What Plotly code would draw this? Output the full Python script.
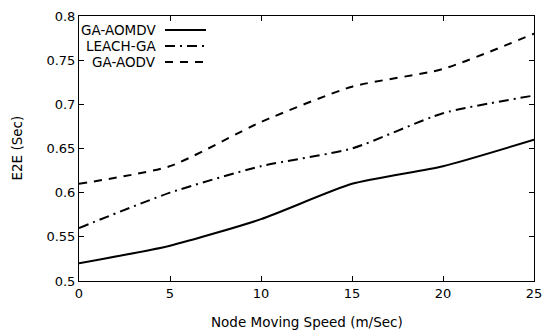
import plotly.graph_objects as go

speed = [0, 5, 10, 15, 20, 25]
ga_aomdv = [0.52, 0.54, 0.57, 0.61, 0.63, 0.66]
leach_ga = [0.56, 0.60, 0.63, 0.65, 0.69, 0.71]
ga_aodv = [0.61, 0.63, 0.68, 0.72, 0.74, 0.78]
names = ["GA-AOMDV", "LEACH-GA", "GA-AODV"]
dashes = ["solid", "10px,5px,2px,5px", "8px,7px"]
series = [ga_aomdv, leach_ga, ga_aodv]

fig = go.Figure()
for n, d, s in zip(names, dashes, series):
    fig.add_trace(go.Scatter(x=speed, y=s, mode="lines", name=n,
                             line=dict(color="black", width=2, dash=d,
                                       shape="spline", smoothing=0.6),
                             showlegend=False))

# target page geometry (the page body has an 8px default margin)
OFF = 8
L, R, T, B = 79, 534, 16, 281
W, H = 550, 335
pw, ph = R - L, B - T
FONT = "DejaVu Sans"

# manual legend (text left of key line, as in the reference)
key_y = [30, 46, 62]
for n, d, yy in zip(names, dashes, key_y):
    yp = (B - yy) / ph
    fig.add_annotation(x=(158 - L) / pw, y=yp, xref="paper", yref="paper",
                       text=n, showarrow=False, xanchor="right", yanchor="middle",
                       font=dict(size=13.5, color="black", family=FONT))
    fig.add_shape(type="line", xref="paper", yref="paper",
                  x0=(165 - L) / pw, x1=(206 - L) / pw, y0=yp, y1=yp,
                  line=dict(color="black", width=2, dash=d))

# axis titles
fig.add_annotation(x=0.5, y=(B - 322) / ph, xref="paper", yref="paper",
                   text="Node Moving Speed (m/Sec)", showarrow=False,
                   xanchor="center", yanchor="middle",
                   font=dict(size=13.5, color="black", family=FONT))
fig.add_annotation(x=(16 - L) / pw, y=0.5, xref="paper", yref="paper",
                   text="E2E (Sec)", showarrow=False, textangle=-90,
                   xanchor="center", yanchor="middle",
                   font=dict(size=13.5, color="black", family=FONT))

axis_common = dict(showline=True, linecolor="black", linewidth=1, mirror="ticks",
                   ticks="inside", ticklen=5, tickcolor="black", showgrid=False,
                   zeroline=False, automargin=False, ticklabeloverflow="allow",
                   tickfont=dict(size=13, color="black", family=FONT))
fig.update_layout(
    width=W - OFF, height=H - OFF,
    margin=dict(l=L - OFF, r=W - R, t=T - OFF, b=H - B),
    plot_bgcolor="white", paper_bgcolor="white",
    font=dict(family=FONT, color="black"),
    xaxis=dict(range=[0, 25], tickvals=[0, 5, 10, 15, 20, 25], **axis_common),
    yaxis=dict(range=[0.5, 0.8], tickvals=[0.5, 0.55, 0.6, 0.65, 0.7, 0.75, 0.8],
               ticktext=["0.5", "0.55", "0.6", "0.65", "0.7", "0.75", "0.8"],
               **axis_common),
)
fig.write_html("out.html")
